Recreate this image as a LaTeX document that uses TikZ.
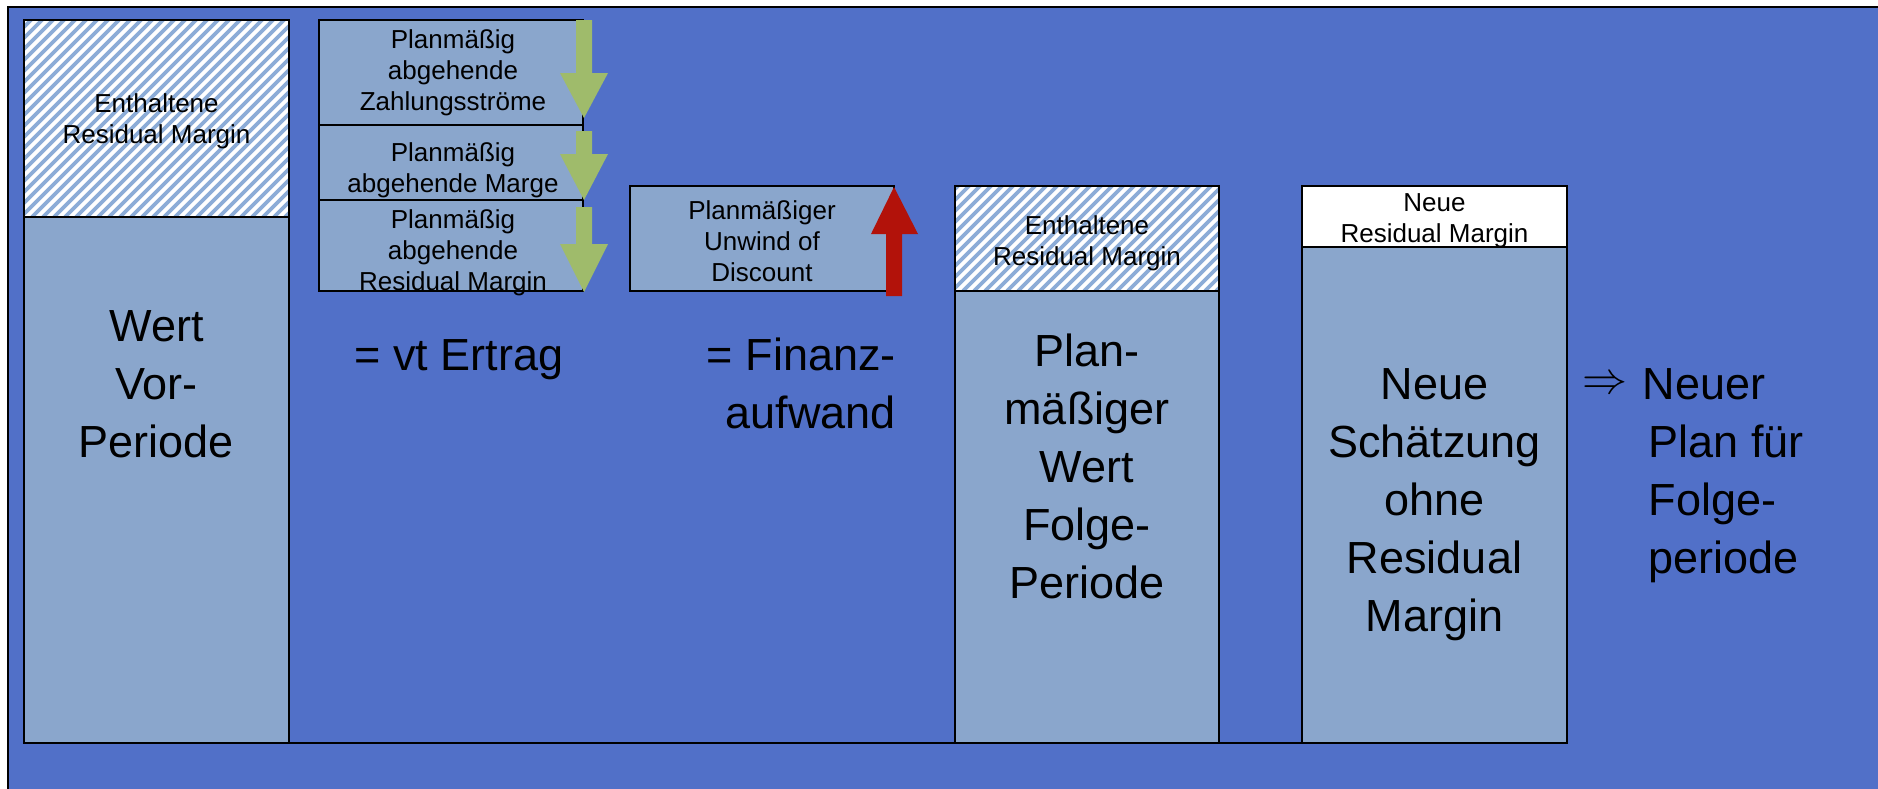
\documentclass[tikz,border=0pt]{standalone}
\usepackage{fontspec}
\usepackage{graphicx}
\setmainfont{Liberation Sans}
\definecolor{bg}{RGB}{81,112,200}
\definecolor{boxfill}{RGB}{138,166,204}
\definecolor{stripe}{RGB}{140,172,215}
\definecolor{grn}{RGB}{159,187,107}
\definecolor{redarr}{RGB}{178,18,10}
\newcommand\hatchrect[4]{%
  \begin{scope}
    \clip (#1,#2) rectangle (#3,#4);
    \fill[white] (#1,#2) rectangle (#3,#4);
    \foreach \k in {-300,-289,...,600} {\draw[stripe,line width=3.6pt] (#1+\k,#4) -- ++(300,-300);}
  \end{scope}}
\newcommand\greenarrow[3]{%
  \fill[grn] (576,#1) -- (592,#1) -- (592,#2) -- (608,#2) -- (584,#3) -- (560,#2) -- (576,#2) -- cycle;}
\begin{document}
\begin{tikzpicture}[x=1pt,y=-1pt,
  boxline/.style={draw=black,line width=2pt},
  small/.style={font=\fontsize{26}{31}\selectfont,align=center,inner sep=0pt},
  big/.style={font=\fontsize{45}{58}\selectfont,align=center,inner sep=0pt}]
\useasboundingbox (0,0) rectangle (1878,788);
\begin{scope}
\clip (0,0) rectangle (1878,788);
\fill[white] (-10,-10) rectangle (1890,800);
\fill[bg] (8,7) rectangle (1890,800);
\draw[line width=2pt] (8,800) -- (8,7) -- (1890,7);
\end{scope}

% base line
\draw[line width=2pt] (24,743) -- (1567,743);

% Box 1
\fill[boxfill] (24,217) rectangle (289,743);
\hatchrect{24}{20}{289}{217}
\draw[boxline] (24,20) rectangle (289,743);
\draw[boxline] (24,217) -- (289,217);
\node[small] (rm1) at (156.5,121) {Enthaltene\\Residual Margin};
\node[big] (wert) at (156.5,384) {Wert\\Vor-\\Periode};

% stacked boxes
\fill[boxfill] (319,20) rectangle (583,291);
\draw[boxline] (319,20) rectangle (583,125);
\draw[boxline] (319,125) rectangle (583,200);
\draw[boxline] (319,200) rectangle (583,291);
\node[small] (za) at (453,73) {Planmäßig\\abgehende\\Zahlungsströme};
\node[small] (ma) at (453,170) {Planmäßig\\abgehende Marge};
\node[small] (ra) at (453,253) {Planmäßig\\abgehende\\Residual Margin};
\greenarrow{20}{73}{118}
\greenarrow{131}{154}{200}
\greenarrow{207}{244}{292}
\node[big,anchor=base] (ertrag) at (459,370) {= vt Ertrag};

% unwind box
\fill[boxfill] (630,186) rectangle (894,291);
\draw[boxline] (630,186) rectangle (894,291);
\node[small] (uw) at (762,241) {Planmäßiger\\Unwind of\\Discount};
\fill[redarr] (886,296) -- (902,296) -- (902,234) -- (918,234) -- (894,187) -- (871,234) -- (886,234) -- cycle;
\node[big,align=right,anchor=east] (fin) at (896,383) {= Finanz-\\aufwand};

% Box 4
\fill[boxfill] (955,291) rectangle (1219,743);
\hatchrect{955}{186}{1219}{291}
\draw[boxline] (955,186) rectangle (1219,743);
\draw[boxline] (955,291) -- (1219,291);
\node[small] (rm4) at (1087,243) {Enthaltene\\Residual Margin};
\node[big] (plan) at (1087,466) {Plan-\\mäßiger\\Wert\\Folge-\\Periode};

% Box 5
\fill[boxfill] (1302,247) rectangle (1567,743);
\fill[white] (1302,186) rectangle (1567,247);
\draw[boxline] (1302,186) rectangle (1567,743);
\draw[boxline] (1302,247) -- (1567,247);
\node[small] (nrm) at (1434.5,221) {Neue\\Residual Margin};
\node[big] (neu) at (1434.5,505) {Neue\\Schätzung\\ohne\\Residual\\Margin};

% right text
\node[inner sep=0pt] (impl) at (1605,385) {\scalebox{4.5}{$\Rightarrow$}};
\node[big,align=left,anchor=west] (np) at (1648.5,476) {\hspace*{-6pt}Neuer\\Plan für\\Folge-\\periode};
\end{tikzpicture}
\end{document}
